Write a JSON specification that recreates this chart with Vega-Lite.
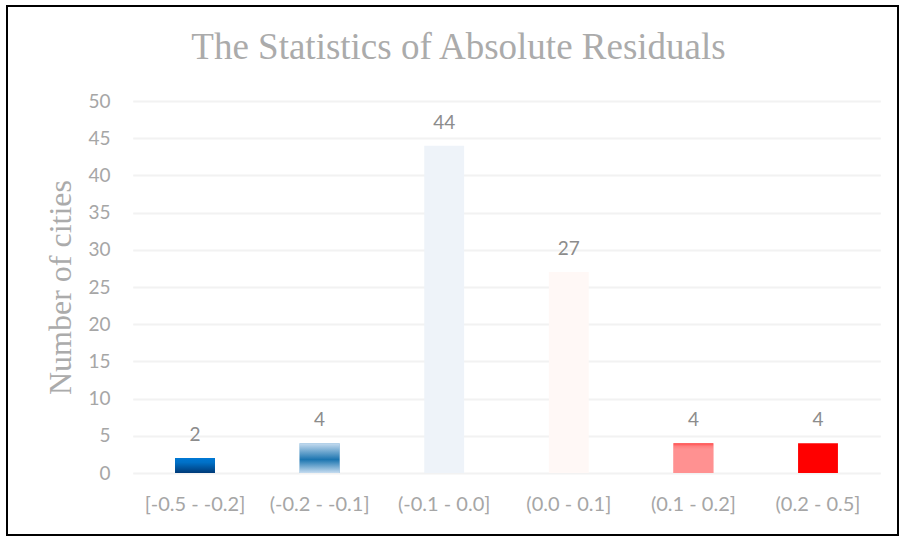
{
  "$schema": "https://vega.github.io/schema/vega-lite/v6.json",
  "width": 891,
  "height": 529,
  "autosize": {"type": "none"},
  "padding": {"left": 7, "top": 6, "right": 1, "bottom": 2},
  "background": "white",
  "config": {"view": {"stroke": "#000000", "strokeWidth": 2}},
  "title": {
    "text": "The Statistics of Absolute Residuals",
    "font": "Liberation Serif",
    "fontSize": 37,
    "fontWeight": "normal",
    "color": "#ababab",
    "anchor": "middle",
    "baseline": "alphabetic",
    "offset": -90,
    "dx": 6
  },
  "data": {
    "values": [
      {"bin": "[-0.5 - -0.2]", "count": 2},
      {"bin": "(-0.2 - -0.1]", "count": 4},
      {"bin": "(-0.1 - 0.0]", "count": 44},
      {"bin": "(0.0 - 0.1]", "count": 27},
      {"bin": "(0.1 - 0.2]", "count": 4},
      {"bin": "(0.2 - 0.5]", "count": 4}
    ]
  },
  "encoding": {
    "x": {
      "field": "bin",
      "type": "nominal",
      "sort": null,
      "scale": {"range": [125.7, 873.3], "paddingInner": 0.68, "paddingOuter": 0.34},
      "axis": {
        "orient": "bottom",
        "offset": -47,
        "labelPadding": 6,
        "tickSize": 0,
        "ticks": false,
        "domain": false,
        "grid": false,
        "labelAngle": 0,
        "labelFont": "Lato",
        "labelFontSize": 20,
        "labelColor": "#a6a6a6",
        "title": null
      }
    },
    "y": {
      "field": "count",
      "type": "quantitative",
      "scale": {"domain": [0, 50], "range": [467, 95], "nice": false, "zero": true},
      "axis": {
        "orient": "left",
        "offset": -107,
        "labelPadding": 4,
        "tickSize": 0,
        "ticks": false,
        "domain": false,
        "values": [0, 5, 10, 15, 20, 25, 30, 35, 40, 45, 50],
        "grid": true,
        "gridColor": "#f2f2f2",
        "gridWidth": 2,
        "labelFont": "Lato",
        "labelFontSize": 19,
        "labelColor": "#a6a6a6",
        "title": "Number of cities",
        "titleFont": "Liberation Serif",
        "titleFontSize": 32,
        "titleFontWeight": "normal",
        "titleColor": "#ababab",
        "titleAngle": -90,
        "titleX": -54,
        "titleY": 281,
        "titleAlign": "center",
        "titleBaseline": "middle"
      }
    }
  },
  "layer": [
    {
      "mark": {"type": "bar"},
      "encoding": {
        "color": {
          "field": "bin",
          "type": "nominal",
          "sort": null,
          "legend": null,
          "scale": {
            "domain": ["[-0.5 - -0.2]", "(-0.2 - -0.1]", "(-0.1 - 0.0]", "(0.0 - 0.1]", "(0.1 - 0.2]", "(0.2 - 0.5]"],
            "range": ["#0062b0", "#5a9bcb", "#eef3f9", "#fff8f6", "#ff9191", "#ff0000"]
          }
        }
      }
    },
    {
      "transform": [{"filter": "datum.bin === '[-0.5 - -0.2]'"}],
      "mark": {
        "type": "bar",
        "color": {
          "gradient": "linear", "x1": 0, "y1": 0, "x2": 0, "y2": 1,
          "stops": [
            {"offset": 0, "color": "#0078d4"},
            {"offset": 0.3, "color": "#0070c6"},
            {"offset": 1, "color": "#003a78"}
          ]
        }
      }
    },
    {
      "transform": [{"filter": "datum.bin === '(-0.2 - -0.1]'"}],
      "mark": {
        "type": "bar",
        "color": {
          "gradient": "linear", "x1": 0, "y1": 0, "x2": 0, "y2": 1,
          "stops": [
            {"offset": 0, "color": "#c6dcf0"},
            {"offset": 0.55, "color": "#1c75b0"},
            {"offset": 1, "color": "#c6dcf0"}
          ]
        }
      }
    },
    {
      "transform": [{"filter": "datum.bin === '(0.1 - 0.2]'"}],
      "mark": {
        "type": "bar",
        "color": {
          "gradient": "linear", "x1": 0, "y1": 0, "x2": 0, "y2": 1,
          "stops": [
            {"offset": 0, "color": "#ff4a4a"},
            {"offset": 0.1, "color": "#ff8080"},
            {"offset": 0.2, "color": "#ff9191"},
            {"offset": 1, "color": "#ff9191"}
          ]
        }
      }
    },
    {
      "mark": {
        "type": "text",
        "baseline": "alphabetic",
        "dy": -17,
        "font": "Lato",
        "fontSize": 19,
        "color": "#8c8c8c"
      },
      "encoding": {"text": {"field": "count", "type": "quantitative"}}
    }
  ]
}
